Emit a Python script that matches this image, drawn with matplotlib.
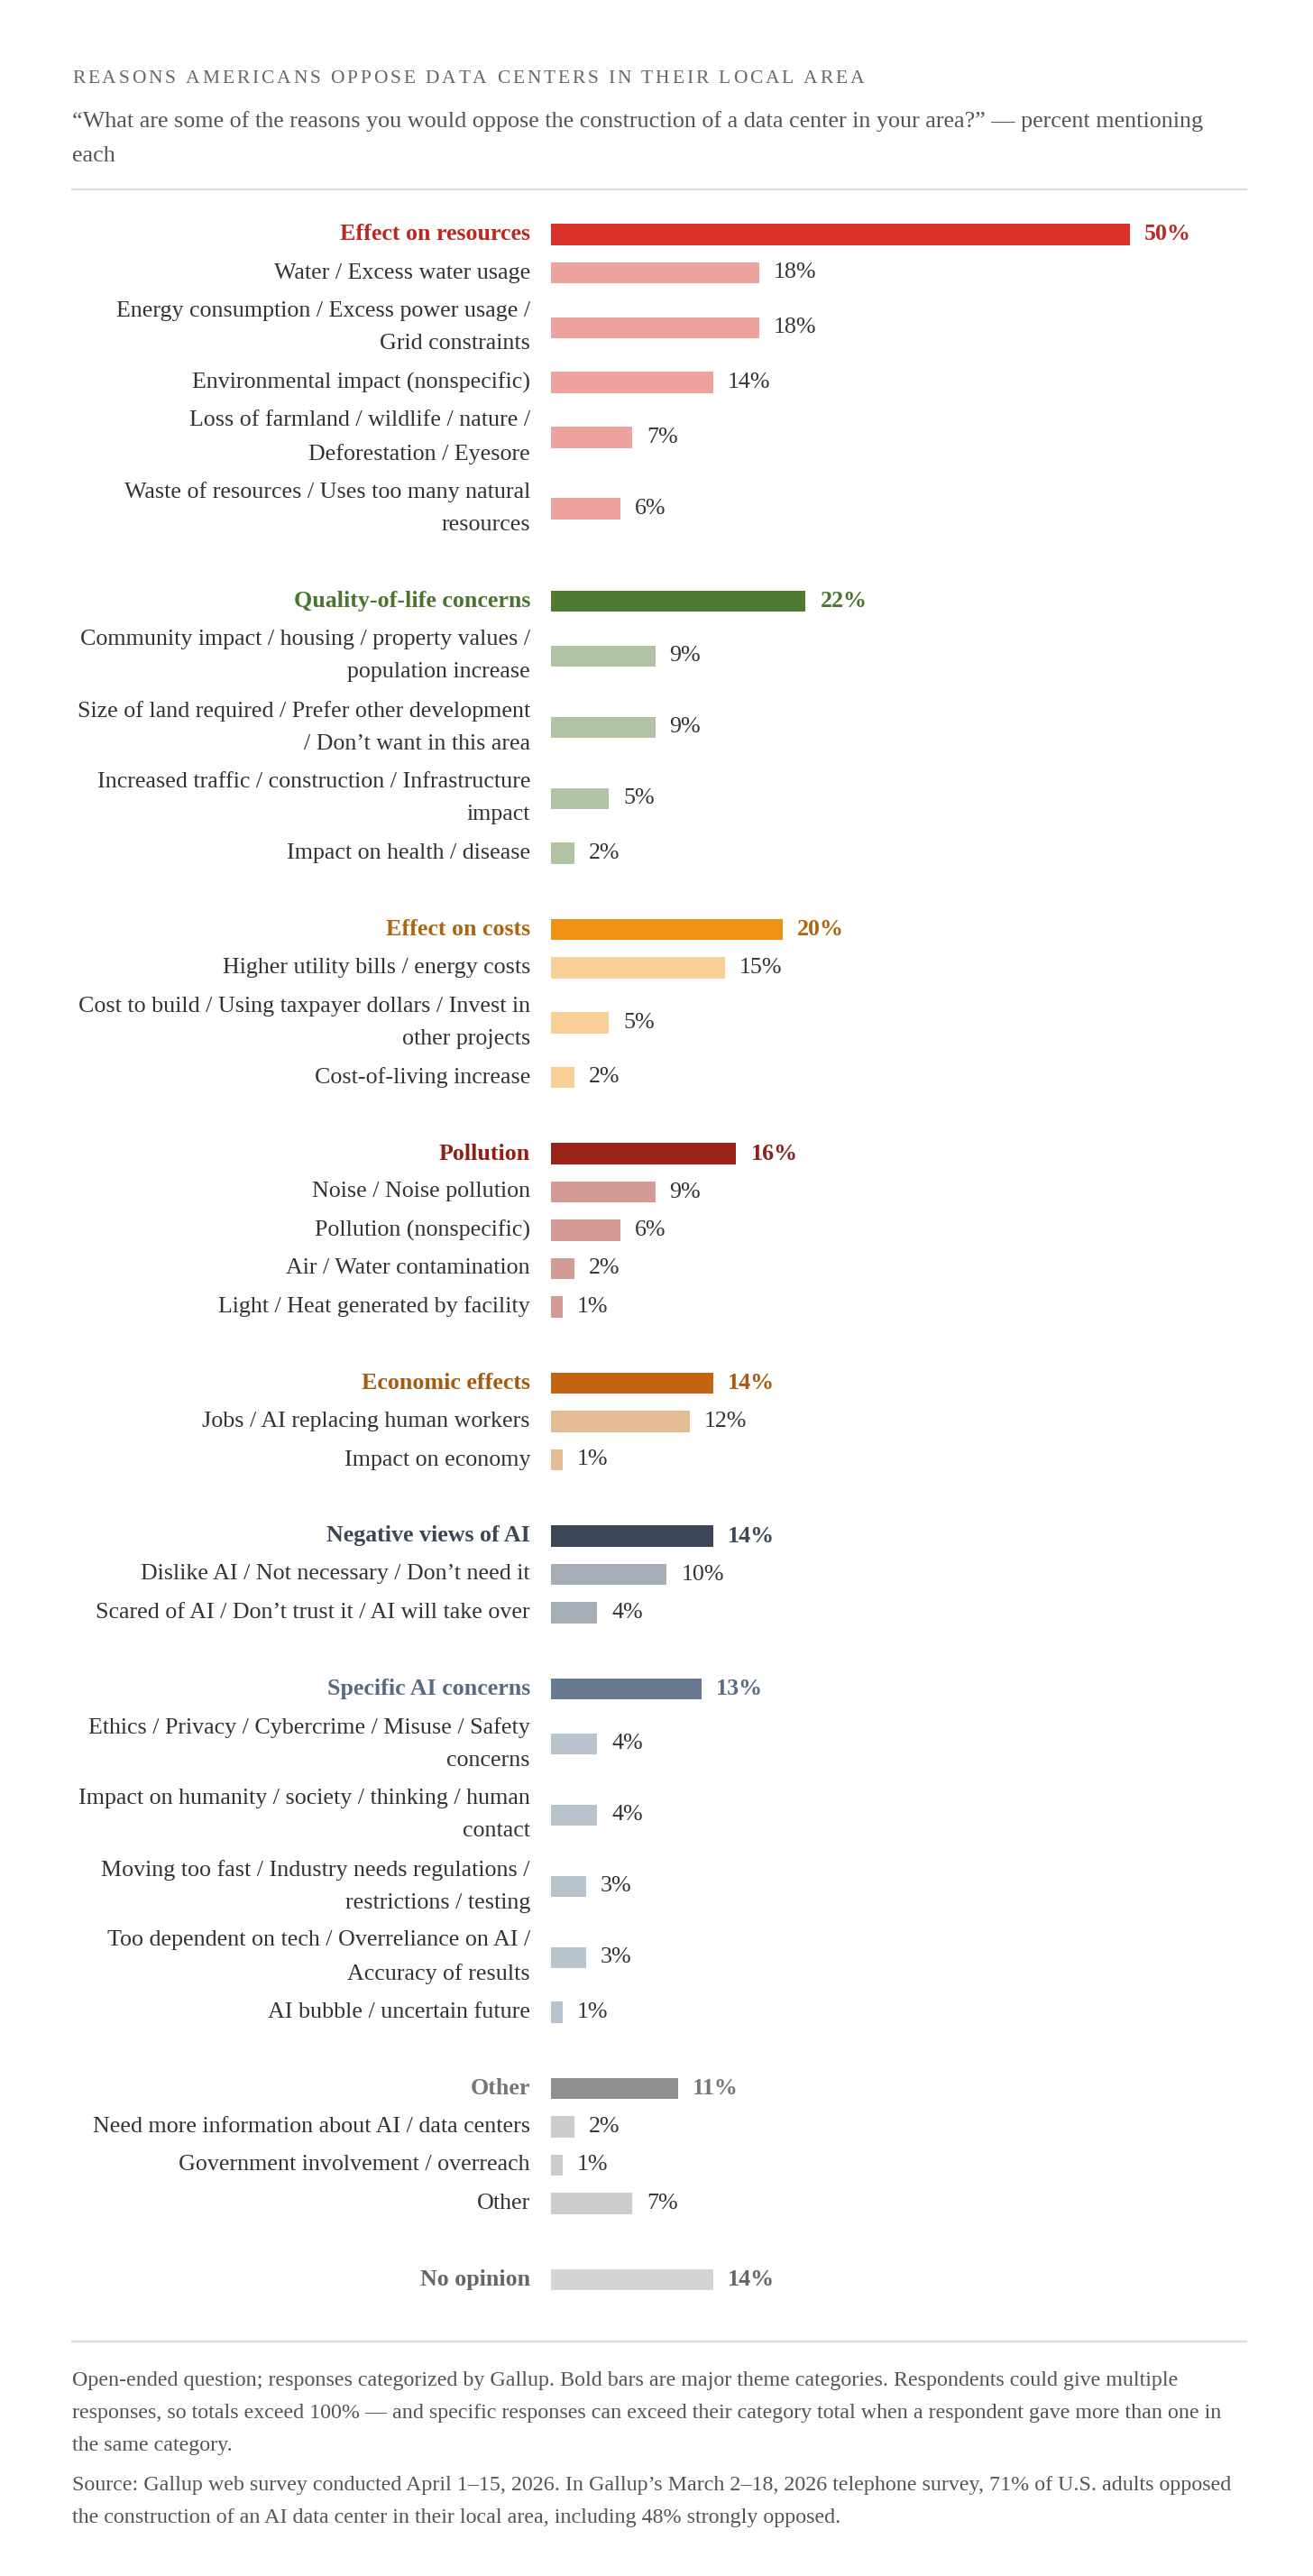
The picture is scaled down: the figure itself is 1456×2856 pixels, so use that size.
import numpy as np
import matplotlib
matplotlib.use("Agg")
import matplotlib.pyplot as plt
from matplotlib.font_manager import FontProperties

# ---- data -------------------------------------------------------------
group_names = ["Effect on resources", "Quality-of-life concerns", "Effect on costs",
               "Pollution", "Economic effects", "Negative views of AI",
               "Specific AI concerns", "Other", "No opinion"]
group_values = [50, 22, 20, 16, 14, 14, 13, 11, 14]

item_labels = [
    ["Water / Excess water usage",
     "Energy consumption / Excess power usage /\nGrid constraints",
     "Environmental impact (nonspecific)",
     "Loss of farmland / wildlife / nature /\nDeforestation / Eyesore",
     "Waste of resources / Uses too many natural\nresources"],
    ["Community impact / housing / property values /\npopulation increase",
     "Size of land required / Prefer other development\n/ Don\u2019t want in this area",
     "Increased traffic / construction / Infrastructure\nimpact",
     "Impact on health / disease"],
    ["Higher utility bills / energy costs",
     "Cost to build / Using taxpayer dollars / Invest in\nother projects",
     "Cost-of-living increase"],
    ["Noise / Noise pollution",
     "Pollution (nonspecific)",
     "Air / Water contamination",
     "Light / Heat generated by facility"],
    ["Jobs / AI replacing human workers",
     "Impact on economy"],
    ["Dislike AI / Not necessary / Don\u2019t need it",
     "Scared of AI / Don\u2019t trust it / AI will take over"],
    ["Ethics / Privacy / Cybercrime / Misuse / Safety\nconcerns",
     "Impact on humanity / society / thinking / human\ncontact",
     "Moving too fast / Industry needs regulations /\nrestrictions / testing",
     "Too dependent on tech / Overreliance on AI /\nAccuracy of results",
     "AI bubble / uncertain future"],
    ["Need more information about AI / data centers",
     "Government involvement / overreach",
     "Other"],
    [],
]
item_values = [
    [18, 18, 14, 7, 6],
    [9, 9, 5, 2],
    [15, 5, 2],
    [9, 6, 2, 1],
    [12, 1],
    [10, 4],
    [4, 4, 3, 3, 1],
    [2, 1, 7],
    [],
]

bar_dark = ["#d93127", "#4f7a33", "#ef9214", "#9b231a", "#c26616",
            "#3b4757", "#687a90", "#8f8f8f", "#d4d4d4"]
bar_light = ["#eda49f", "#b0c4a3", "#f8cf94", "#d29b96", "#e4bd94",
             "#a5adb6", "#b9c3ce", "#cccccc", "#d4d4d4"]
text_dark = ["#bb2820", "#4a7530", "#ad660e", "#8e2018", "#a85a10",
             "#3b4757", "#576b84", "#777777", "#666666"]

# ---- layout (pixels) ---------------------------------------------------
W, H = 1456, 2856
fig = plt.figure(figsize=(W / 100, H / 100), dpi=100)
fig.patch.set_facecolor("white")
serif = "Liberation Serif"

px_per_pct = 12.84
bar_x0 = 611
xmax = 60
ax = fig.add_axes([bar_x0 / W, 0, xmax * px_per_pct / W, 1])
ax.set_xlim(0, xmax)
ax.set_ylim(H, 0)
ax.axis("off")

row1, row2, gap = 42.5, 79.0, 42.0
bar_h = 23.5
lab_fs = 18.7

y = 238.75
for g, name in enumerate(group_names):
    yc = y + row1 / 2
    ax.barh(yc, group_values[g], height=bar_h, color=bar_dark[g], left=0)
    ax.annotate(name, (0, yc), xytext=(-23, 0), textcoords="offset pixels",
                ha="right", va="center", fontsize=lab_fs, fontweight="bold",
                color=text_dark[g], family=serif)
    ax.annotate(f"{group_values[g]}%", (group_values[g], yc), xytext=(16, 0),
                textcoords="offset pixels", ha="left", va="center",
                fontsize=lab_fs, fontweight="bold", color=text_dark[g], family=serif)
    y += row1
    for lab, v in zip(item_labels[g], item_values[g]):
        h = row2 if "\n" in lab else row1
        yc = y + h / 2
        ax.barh(yc, v, height=bar_h, color=bar_light[g], left=0)
        ax.annotate(lab, (0, yc), xytext=(-23, 0), textcoords="offset pixels",
                    ha="right", va="center", fontsize=lab_fs, color="#333333",
                    family=serif, linespacing=1.85, multialignment="right")
        ax.annotate(f"{v}%", (v, yc), xytext=(16, 0), textcoords="offset pixels",
                    ha="left", va="center", fontsize=lab_fs, color="#333333",
                    family=serif)
        y += h
    y += gap

# ---- header -----------------------------------------------------------
def fx(px):
    return px / W

def fy(px):
    return 1 - px / H

# letter-spaced title drawn character by character
title = "REASONS AMERICANS OPPOSE DATA CENTERS IN THEIR LOCAL AREA"
fp = FontProperties(family=serif, size=15.5)
renderer = fig.canvas.get_renderer()
widths = []
for ch in title:
    if ch == " ":
        w_, _, _ = renderer.get_text_width_height_descent("n n", fp, ismath=False)
        w2, _, _ = renderer.get_text_width_height_descent("nn", fp, ismath=False)
        widths.append(w_ - w2)
    else:
        w_, _, _ = renderer.get_text_width_height_descent(ch, fp, ismath=False)
        widths.append(w_)
target_w = 878
spacing = (target_w - sum(widths)) / (len(title) - 1)
xp = 80
for ch, w_ in zip(title, widths):
    if ch != " ":
        fig.text(fx(xp), fy(88), ch, fontproperties=fp, color="#666666",
                 ha="left", va="center")
    xp += w_ + spacing

fig.text(fx(80), fy(135),
         "\u201cWhat are some of the reasons you would oppose the construction of a data center in your area?\u201d \u2014 percent mentioning",
         family=serif, fontsize=18.8, color="#555555", ha="left", va="center")
fig.text(fx(80), fy(173), "each", family=serif, fontsize=18.8, color="#555555",
         ha="left", va="center")

fig.add_artist(plt.Line2D([fx(80), fx(1382)], [fy(210), fy(210)],
                          color="#dddddd", linewidth=1.6))
fig.add_artist(plt.Line2D([fx(80), fx(1382)], [fy(2596), fy(2596)],
                          color="#dddddd", linewidth=1.6))

# ---- footer -----------------------------------------------------------
foot = [
    (2639, "Open-ended question; responses categorized by Gallup. Bold bars are major theme categories. Respondents could give multiple"),
    (2676, "responses, so totals exceed 100% \u2014 and specific responses can exceed their category total when a respondent gave more than one in"),
    (2712, "the same category."),
    (2756, "Source: Gallup web survey conducted April 1\u201315, 2026. In Gallup\u2019s March 2\u201318, 2026 telephone survey, 71% of U.S. adults opposed"),
    (2792, "the construction of an AI data center in their local area, including 48% strongly opposed."),
]
for yy, txt in foot:
    fig.text(fx(80), fy(yy), txt, family=serif, fontsize=17.3, color="#555555",
             ha="left", va="center")

fig.savefig("out.png", dpi=100, facecolor="white")
